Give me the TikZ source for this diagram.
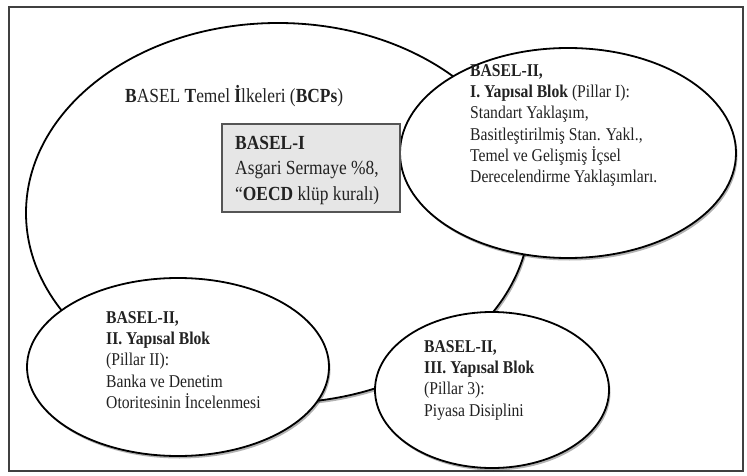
\documentclass[tikz,border=0pt]{standalone}
\usepackage{fontspec}
\setmainfont{Liberation Serif}
\newfontfamily\dfont[FakeStretch=0.87]{Liberation Serif}
\usetikzlibrary{shapes.geometric,shadows}
\definecolor{txt}{HTML}{222222}
\definecolor{boxfill}{HTML}{E6E6E6}
\definecolor{boxline}{HTML}{555555}
\begin{document}
\begin{tikzpicture}[x=1pt,y=-1pt,
  frame/.style={draw=black!75,line width=1.1pt,rectangle,inner sep=0pt},
  oval/.style={ellipse,draw=black,line width=1.8pt,fill=white,inner sep=0pt,
    drop shadow={shadow xshift=1.5pt,shadow yshift=-2.5pt,opacity=0.3,fill=black}},
  gbox/.style={rectangle,draw=boxline,line width=1.2pt,fill=boxfill,inner sep=0pt},
  etext/.style={anchor=north west,align=left,inner sep=0pt,text=txt,
    font=\dfont\fontsize{18}{21.3}\selectfont},
  btext/.style={anchor=north west,align=left,inner sep=0pt,text=txt,
    font=\dfont\fontsize{20}{25.5}\selectfont},
  ttext/.style={anchor=base west,inner sep=0pt,text=txt,
    font=\dfont\fontsize{20}{24}\selectfont}]
\useasboundingbox (0,0) rectangle (747,476);
\node[frame,minimum width=734pt,minimum height=464pt] (frame) at (376,239) {};
\node[oval,minimum width=504pt,minimum height=380pt] (bcp) at (278,213) {};
\node[oval,minimum width=336pt,minimum height=210pt] (p1) at (568,153) {};
\node[oval,minimum width=302pt,minimum height=178pt] (p2) at (178,367) {};
\node[oval,minimum width=234pt,minimum height=156pt] (p3) at (492,390) {};
\node[gbox,minimum width=178pt,minimum height=88pt] (b1) at (311,168) {};
\node[ttext] (title) at (125,103) {\textbf{B}ASEL \textbf{T}emel \textbf{İ}lkeleri (\textbf{BCPs})};
\node[btext] (b1t) at (235,136) {\textbf{BASEL-I}\\Asgari Sermaye \%8,\\“\textbf{OECD} klüp kuralı)};
\node[etext] (p1t) at (470,64) {\textbf{BASEL-II,}\\\textbf{I. Yapısal Blok} (Pillar I):\\Standart Yaklaşım,\\Basitleştirilmiş Stan. Yakl.,\\Temel ve Gelişmiş İçsel\\Derecelendirme Yaklaşımları.};
\node[etext] (p2t) at (106,311) {\textbf{BASEL-II,}\\\textbf{II. Yapısal Blok}\\(Pillar II):\\Banka ve Denetim\\Otoritesinin İncelenmesi};
\node[etext] (p3t) at (424,340) {\textbf{BASEL-II,}\\\textbf{III. Yapısal Blok}\\(Pillar 3):\\Piyasa Disiplini};
\end{tikzpicture}
\end{document}
